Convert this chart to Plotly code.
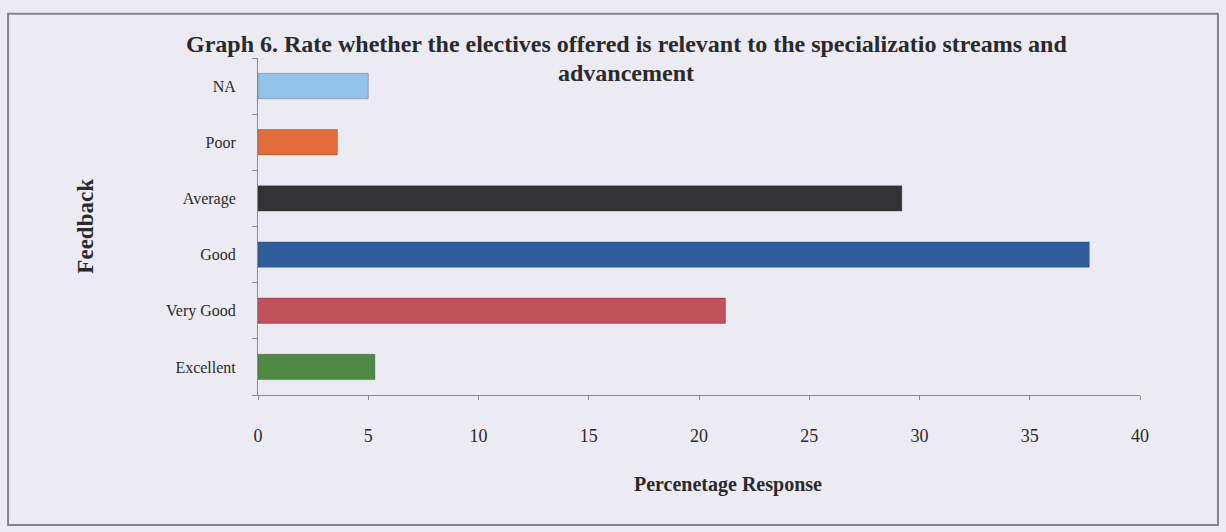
# Graph 6: relevance of electives offered, horizontal bar chart
import plotly.graph_objects as go

# data
feedback = ['Excellent', 'Very Good', 'Good', 'Average', 'Poor', 'NA']
percentage = [5.3, 21.2, 37.7, 29.2, 3.6, 5.0]
bar_colors = ['#4e8a44', '#c0505a', '#2f5d9c', '#333335', '#e46c3a', '#93c3e8']
x_ticks = [0, 5, 10, 15, 20, 25, 30, 35, 40]
title_lines = ['Graph 6. Rate whether the electives offered is relevant to the specializatio streams and',
               'advancement']

bg = '#ecebf3'
font_family = 'Liberation Serif, Times New Roman, serif'

fig = go.Figure()
fig.add_trace(go.Bar(
    y=feedback, x=percentage, orientation='h',
    marker=dict(color=bar_colors, line=dict(color='rgba(60,60,60,0.35)', width=1)),
    width=0.45, hoverinfo='x+y'))

fig.update_layout(
    width=1226, height=532,
    margin=dict(l=258, r=86, t=58, b=137),
    paper_bgcolor=bg, plot_bgcolor=bg,
    font=dict(family=font_family, size=17, color='#2a2a2a'),
    showlegend=False,
)

fig.update_xaxes(
    range=[0, 40], tickvals=x_ticks, showgrid=False, zeroline=False,
    showline=True, linecolor='#8a8a8a', linewidth=1,
    ticks='outside', ticklen=4, tickcolor='#8a8a8a', ticklabelstandoff=20,
    tickfont=dict(size=18))
fig.update_yaxes(
    showgrid=False, showline=True, linecolor='#8a8a8a', linewidth=1,
    ticks='outside', ticklen=5, tickcolor='#8a8a8a', tickson='boundaries',
    ticklabelstandoff=18, tickfont=dict(size=16))

# title, one annotation per line (container pixels -> paper fractions)
for line, ypix in zip(title_lines, [44, 73]):
    fig.add_annotation(text='<b>' + line + '</b>', xref='paper', yref='paper',
                       x=(626 - 258) / 882, y=(395 - ypix) / 337,
                       xanchor='center', yanchor='middle', showarrow=False,
                       font=dict(family=font_family, size=24, color='#2a2a2a'))

# axis titles placed as annotations
fig.add_annotation(text='<b>Percenetage Response</b>', xref='paper', yref='paper',
                   x=0.533, y=-0.267, xanchor='center', yanchor='middle', showarrow=False,
                   font=dict(family=font_family, size=20))
fig.add_annotation(text='<b>Feedback</b>', xref='paper', yref='paper',
                   x=-0.196, y=0.5, textangle=-90, xanchor='center', yanchor='middle',
                   showarrow=False, font=dict(family=font_family, size=23))

# outer frame
fig.add_shape(type='rect', xref='paper', yref='paper',
              x0=-0.2834, x1=1.0884, y0=-0.386, y1=1.131,
              line=dict(color='#858585', width=2))

fig.write_html("out.html", config={'displayModeBar': False},
               post_script="document.body.style.margin='0';")
